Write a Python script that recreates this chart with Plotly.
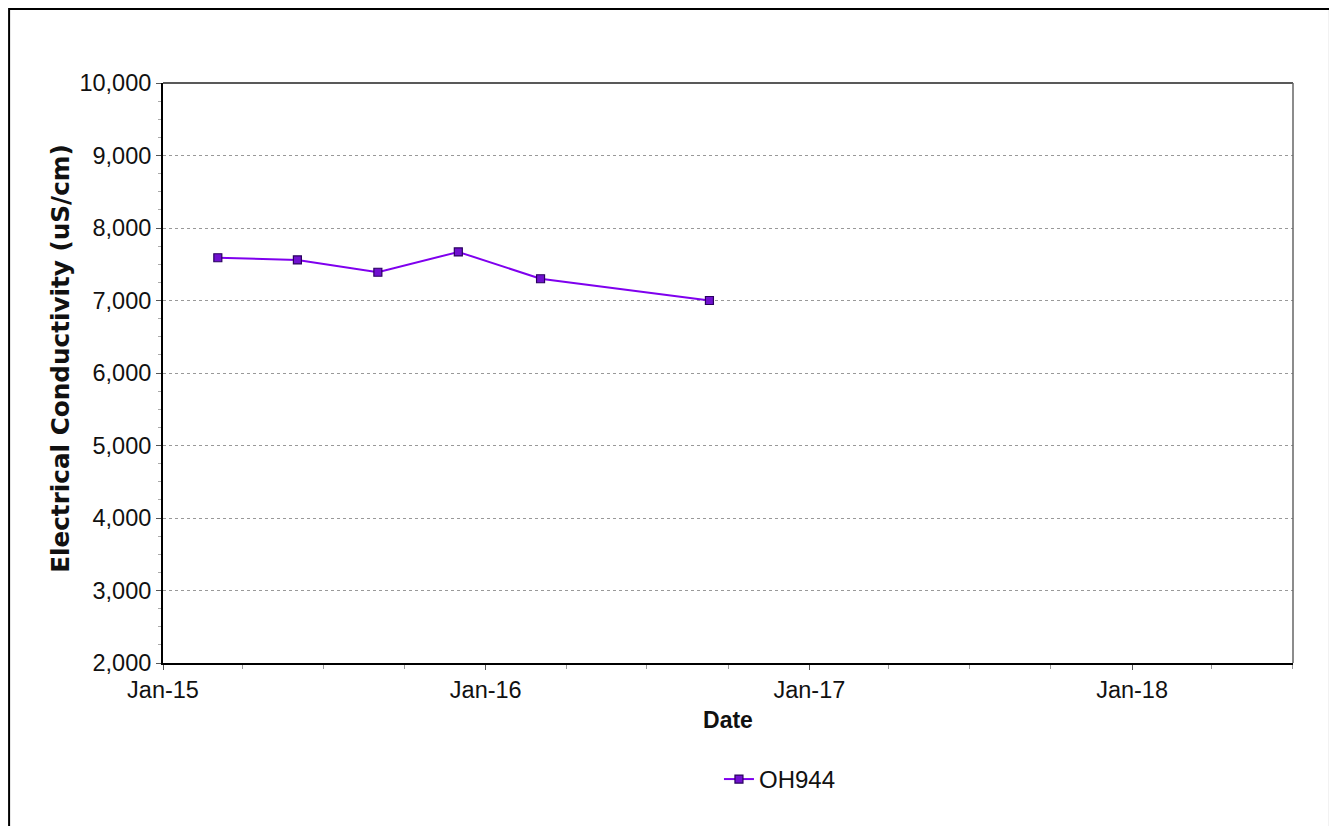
import plotly.graph_objects as go

dates = ["2015-03-04", "2015-06-02", "2015-09-01", "2015-12-01", "2016-03-03", "2016-09-10"]
ec_values = [7590, 7560, 7390, 7670, 7300, 7000]
series_name = "OH944"

fig = go.Figure()
fig.add_trace(go.Scatter(
    x=dates, y=ec_values, name=series_name, mode="lines+markers",
    line=dict(color="#7F00EE", width=2),
    marker=dict(symbol="square", size=8, color="#7010D0", line=dict(color="#2A0060", width=1.2)),
))

font = "Arial, Liberation Sans, sans-serif"
fig.update_layout(
    width=1337, height=826,
    margin=dict(l=155, r=52, t=75, b=171),
    paper_bgcolor="white", plot_bgcolor="white",
    font=dict(family=font, size=23.5, color="#111"),
    showlegend=True,
    legend=dict(x=0.492, y=-0.162, xanchor="left", yanchor="top", orientation="h",
                font=dict(size=24), bgcolor="rgba(0,0,0,0)", itemwidth=30),
    xaxis=dict(
        type="date", range=["2015-01-01", "2018-07-02"],
        dtick="M12", tick0="2015-01-01", tickformat="%b-%y",
        ticks="outside", ticklen=5, tickcolor="#555",
        showgrid=False, zeroline=False,
        showline=True, linecolor="black", linewidth=2, mirror=False,
        minor=dict(dtick="M3", ticks="outside", ticklen=4, tickcolor="#999", showgrid=False),
        title=dict(text="<b>Date</b>", font=dict(size=23), standoff=10),
        tickfont=dict(size=23.5),
    ),
    yaxis=dict(
        range=[2000, 10000], dtick=1000, tickformat=",d",
        ticks="outside", ticklen=5, tickcolor="#555",
        showgrid=True, gridcolor="#999", griddash="dot", gridwidth=1,
        zeroline=False,
        showline=True, linecolor="black", linewidth=2, mirror=False,
        minor=dict(dtick=250, ticks="outside", ticklen=3, tickcolor="#aaa", showgrid=False),
        tickfont=dict(size=23.5),
    ),
    annotations=[dict(
        text="<b>Electrical Conductivity (uS/cm)</b>", textangle=-90,
        xref="paper", yref="paper", x=-0.0902, y=0.5245,
        xanchor="center", yanchor="middle", showarrow=False,
        font=dict(size=24.7, family="DejaVu Sans, Arial, sans-serif", color="#111"),
    )],
    shapes=[
        dict(type="line", xref="paper", yref="paper", x0=0, x1=1, y0=1, y1=1,
             line=dict(color="#222", width=1.5)),
        dict(type="line", xref="paper", yref="paper", x0=1, x1=1, y0=0, y1=1,
             line=dict(color="#666", width=1.5)),
        dict(type="rect", xref="paper", yref="paper",
             x0=-0.1362, x1=1.0327, y0=-0.4, y1=1.1276,
             line=dict(color="black", width=2)),
    ],
)

fig.write_html("out.html")
